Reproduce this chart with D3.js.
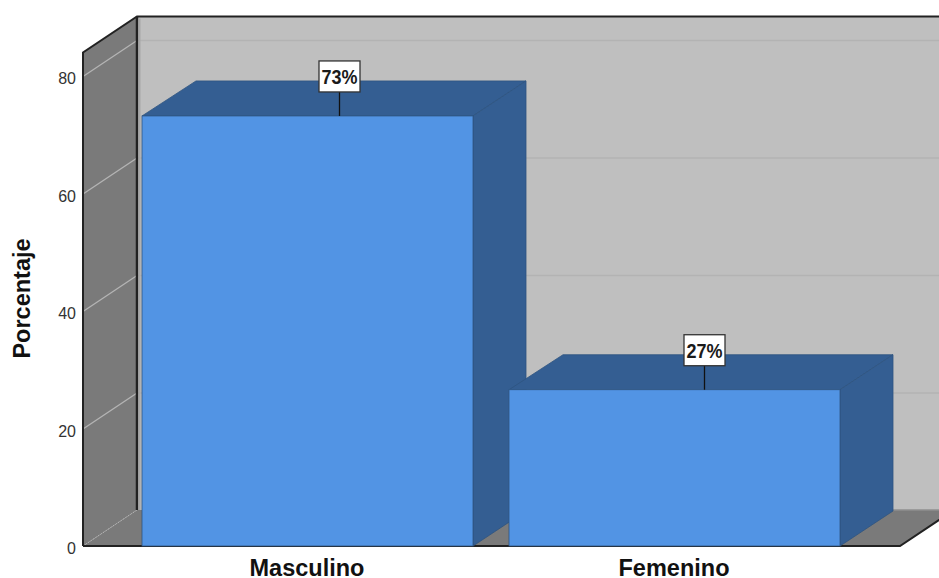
<!DOCTYPE html>
<html><head><meta charset="utf-8">
<script src="https://cdnjs.cloudflare.com/ajax/libs/d3/7.8.5/d3.min.js"></script>
<style>html,body{margin:0;padding:0;background:#fff;overflow:hidden}svg{display:block}text{font-family:"Liberation Sans",Arial,sans-serif}</style>
</head><body><div id="c"></div>
<script>
const categories = ["Masculino", "Femenino"];
const values = [73.2, 26.6];
const labels = ["73%", "27%"];
const yTicks = [0, 20, 40, 60, 80];
const yTitle = "Porcentaje";

const W = 939, H = 578, dx = 54, dy = -36;
const svg = d3.select("#c").append("svg").attr("width", W).attr("height", H);
const y = d3.scaleLinear().domain([0, 84]).range([546, 52.5]);
const barLeft = [142, 509];
const labelShift = [197.5, 195.5];
const xb = d3.scaleOrdinal().domain(categories).range(barLeft);
const lx = d3.scaleOrdinal().domain(categories).range(labelShift);
const bw = 331;
const poly = p => "M" + p.map(a => a.join(",")).join("L") + "Z";
const x0 = 83, x1 = 900;
const y0 = y(0), yT = y(84);

// back wall
svg.append("path").attr("d", poly([[x0+dx,yT+dy],[x1+dx,yT+dy],[x1+dx,y0+dy],[x0+dx,y0+dy]])).attr("fill", "#bfbfbf");
svg.selectAll("line.bg").data(yTicks.slice(1)).join("line").attr("class","bg")
  .attr("x1", x0+dx).attr("x2", x1+dx).attr("y1", d=>y(d)+dy+0.5).attr("y2", d=>y(d)+dy+0.5)
  .attr("stroke", "#b3b3b3").attr("stroke-width", 1.5);
// left wall
svg.append("path").attr("d", poly([[x0,yT],[x0+dx,yT+dy],[x0+dx,y0+dy],[x0,y0]])).attr("fill", "#7a7a7a");
svg.selectAll("line.lg").data(yTicks.slice(1)).join("line").attr("class","lg")
  .attr("x1", x0).attr("x2", x0+dx).attr("y1", d=>y(d)+0.5).attr("y2", d=>y(d)+dy+0.5)
  .attr("stroke", "#b4b4b4").attr("stroke-width", 1.3);
// floor
svg.append("path").attr("d", poly([[x0,y0],[x1,y0],[x1+dx,y0+dy],[x0+dx,y0+dy]])).attr("fill", "#7a7a7a");
svg.append("line").attr("x1",x0).attr("y1",y0).attr("x2",x0+dx).attr("y2",y0+dy)
  .attr("stroke","#b4b4b4").attr("stroke-width",1).attr("stroke-dasharray","1.5 1.5");
// frame lines
svg.append("path").attr("d", `M${x0},${y0}L${x0},${yT}L${x0+dx},${yT+dy}L${W+20},${yT+dy}`)
  .attr("fill","none").attr("stroke","#222").attr("stroke-width",2);
svg.append("line").attr("x1",x0+dx).attr("x2",x0+dx).attr("y1",yT+dy).attr("y2",y0+dy)
  .attr("stroke","#222").attr("stroke-width",2.5);
svg.append("line").attr("x1",x0+dx+2.5).attr("x2",x0+dx+2.5).attr("y1",yT+dy+2).attr("y2",y0+dy)
  .attr("stroke","#a8a8a8").attr("stroke-width",2);
svg.append("path").attr("d", `M${x0},${y0}L${x1},${y0}L${x1+dx},${y0+dy}`)
  .attr("fill","none").attr("stroke","#222").attr("stroke-width",2);
svg.append("line").attr("x1",x0+dx+5).attr("x2",W).attr("y1",y0+dy).attr("y2",y0+dy)
  .attr("stroke","#8f8f8f").attr("stroke-width",1.5);

// bars
const g = svg.selectAll("g.bar").data(categories.map((c,i)=>({c,v:values[i],l:labels[i]}))).join("g").attr("class","bar");
const edge = "#2f5480";
g.append("path").attr("d", d => { const a=xb(d.c), t=y(d.v); return poly([[a,t],[a+bw,t],[a+bw+dx-1,t+dy+1],[a+dx,t+dy+1]]); })
  .attr("fill","#345e92").attr("stroke",edge).attr("stroke-width",0.8);
g.append("path").attr("d", d => { const a=xb(d.c)+bw, t=y(d.v); return poly([[a,t],[a+dx-1,t+dy+1],[a+dx-1,y0+dy+1],[a,y0]]); })
  .attr("fill","#345e92").attr("stroke",edge).attr("stroke-width",0.8);
g.append("rect").attr("x",d=>xb(d.c)).attr("y",d=>y(d.v)).attr("width",bw).attr("height",d=>y0-y(d.v))
  .attr("fill","#5294e4").attr("stroke",edge).attr("stroke-width",0.8);

// labels
g.append("line").attr("x1",d=>xb(d.c)+lx(d.c)).attr("x2",d=>xb(d.c)+lx(d.c)).attr("y1",d=>y(d.v)).attr("y2",d=>y(d.v)-25)
  .attr("stroke","#111").attr("stroke-width",1.3);
g.append("rect").attr("x",d=>xb(d.c)+lx(d.c)-20.5).attr("y",d=>y(d.v)-55).attr("width",41).attr("height",31)
  .attr("fill","#fff").attr("stroke","#333").attr("stroke-width",1.3);
g.append("text").attr("x",d=>xb(d.c)+lx(d.c)).attr("y",d=>y(d.v)-32).attr("text-anchor","middle")
  .attr("font-size",20).attr("font-weight","bold").attr("fill","#1a1a1a")
  .attr("textLength",36).attr("lengthAdjust","spacingAndGlyphs").text(d=>d.l);

// axes text
svg.selectAll("text.yt").data(yTicks).join("text").attr("class","yt")
  .attr("x",76).attr("y",d=>y(d)+8).attr("text-anchor","end").attr("font-size",16).attr("fill","#333").text(d=>d);
svg.append("text").attr("transform","translate(30,298.5) rotate(-90)").attr("text-anchor","middle")
  .attr("font-size",23.5).attr("font-weight","bold").attr("fill","#111").text(yTitle);
svg.selectAll("text.xt").data(categories).join("text").attr("class","xt")
  .attr("x",d=>xb(d)+165).attr("y",576).attr("text-anchor","middle")
  .attr("font-size",23.5).attr("font-weight","bold").attr("fill","#111").text(d=>d);
</script></body></html>
